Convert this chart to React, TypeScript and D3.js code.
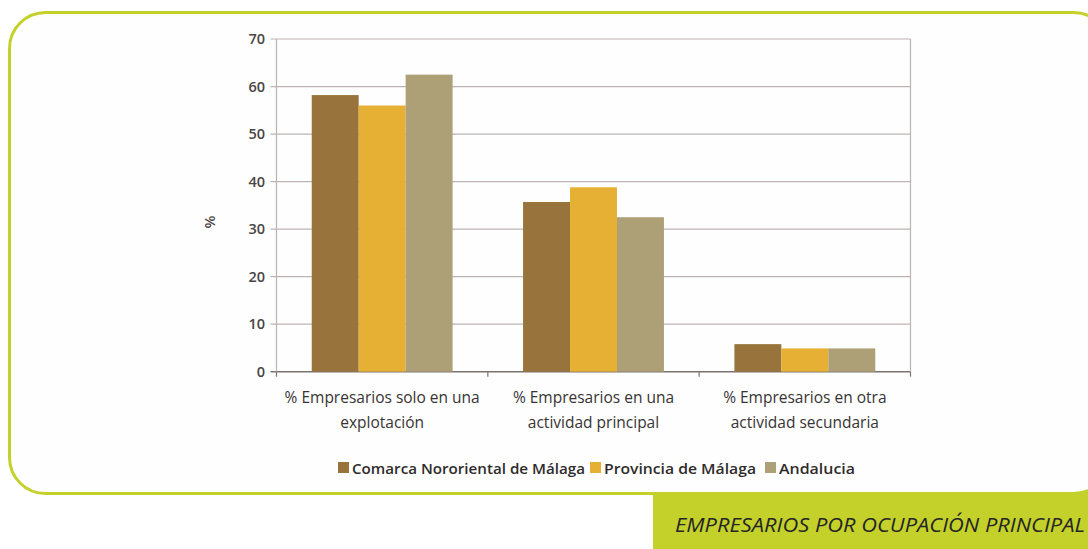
import React from "react";
import * as d3 from "d3";

const categories: string[][] = [
  ["% Empresarios solo en una", "explotación"],
  ["% Empresarios en una", "actividad principal"],
  ["% Empresarios en otra", "actividad secundaria"],
];
const seriesNames = ["Comarca Nororiental de Málaga", "Provincia de Málaga", "Andalucia"];
const comarca = [58.2, 35.7, 5.8];
const provincia = [56.0, 38.8, 4.9];
const andalucia = [62.5, 32.5, 4.9];
const yTicks = [0, 10, 20, 30, 40, 50, 60, 70];
const title = "EMPRESARIOS POR OCUPACIÓN PRINCIPAL";

const colors = ["#98743c", "#e6b034", "#ad9f76"];
const green = "#c3d12a";

export default function App() {
  const series = [comarca, provincia, andalucia];
  const left = 276.5, right = 910.5, top = 39, bottom = 371.7;
  const x = d3.scaleBand<number>().domain([0, 1, 2]).range([left, right]).paddingInner(1 / 3).paddingOuter(1 / 6);
  const xs = d3.scaleBand<number>().domain([0, 1, 2]).range([0, x.bandwidth()]);
  const y = d3.scaleLinear().domain([0, 70]).range([bottom, top]);
  const step = x.step();
  const font = "'Open Sans', sans-serif";

  const legendX = [338, 590, 765];
  const legendW = [233, 152, 76];

  return (
    <svg width={1088} height={549} style={{ position: "absolute", left: 0, top: 0, background: "#fff" }}>
      {/* frame */}
      <rect x={653} y={470} width={440} height={79} fill={green} />
      <rect x={9.5} y={12.5} width={1100} height={481} rx={36} ry={36} fill="#fefefe" stroke={green} strokeWidth={3} />
      <text x={675} y={532} fontFamily={font} fontStyle="italic" fontSize={20} fill="#252525" textLength={410} lengthAdjust="spacingAndGlyphs">{title}</text>

      {/* gridlines */}
      {yTicks.map((t) => (
        <g key={t}>
          <line x1={left - 6} x2={right} y1={y(t)} y2={y(t)} stroke={t === 0 ? "#7d7373" : "#bdb3b3"} strokeWidth={t === 0 ? 1.5 : 1.2} />
          <text x={265} y={y(t)} dy="0.35em" textAnchor="end" fontFamily={font} fontWeight={600} fontSize={14.5} fill="#4a4545">{t}</text>
        </g>
      ))}
      <line x1={left} x2={left} y1={top} y2={bottom} stroke="#bdb3b3" strokeWidth={1.2} />
      <line x1={right} x2={right} y1={top} y2={bottom} stroke="#bdb3b3" strokeWidth={1.2} />
      {[0, 1, 2, 3].map((i) => (
        <line key={i} x1={left + i * step} x2={left + i * step} y1={bottom} y2={bottom + 5} stroke="#7d7373" strokeWidth={1.2} />
      ))}

      {/* bars */}
      {categories.map((_, ci) =>
        series.map((s, si) => (
          <rect key={`${ci}-${si}`} x={(x(ci) as number) + (xs(si) as number)} y={y(s[ci])} width={xs.bandwidth()} height={bottom - y(s[ci])} fill={colors[si]} />
        ))
      )}

      {/* category labels */}
      {categories.map((lines, ci) => (
        <text key={ci} x={(x(ci) as number) + x.bandwidth() / 2} y={403} textAnchor="middle" fontFamily={font} fontSize={15.5} fill="#383434">
          {lines.map((l, li) => (
            <tspan key={li} x={(x(ci) as number) + x.bandwidth() / 2} dy={li === 0 ? 0 : 25}>{l}</tspan>
          ))}
        </text>
      ))}

      {/* y label */}
      <text transform="translate(215,222) rotate(-90)" textAnchor="middle" fontFamily={font} fontWeight={600} fontSize={15} fill="#4a4545">%</text>

      {/* legend */}
      {seriesNames.map((n, i) => (
        <g key={n}>
          <rect x={legendX[i]} y={462} width={11} height={11} fill={colors[i]} />
          <text x={legendX[i] + 14} y={473.5} fontFamily={font} fontWeight={600} fontSize={15} fill="#2f2b2b" textLength={legendW[i]} lengthAdjust="spacingAndGlyphs">{n}</text>
        </g>
      ))}
    </svg>
  );
}
